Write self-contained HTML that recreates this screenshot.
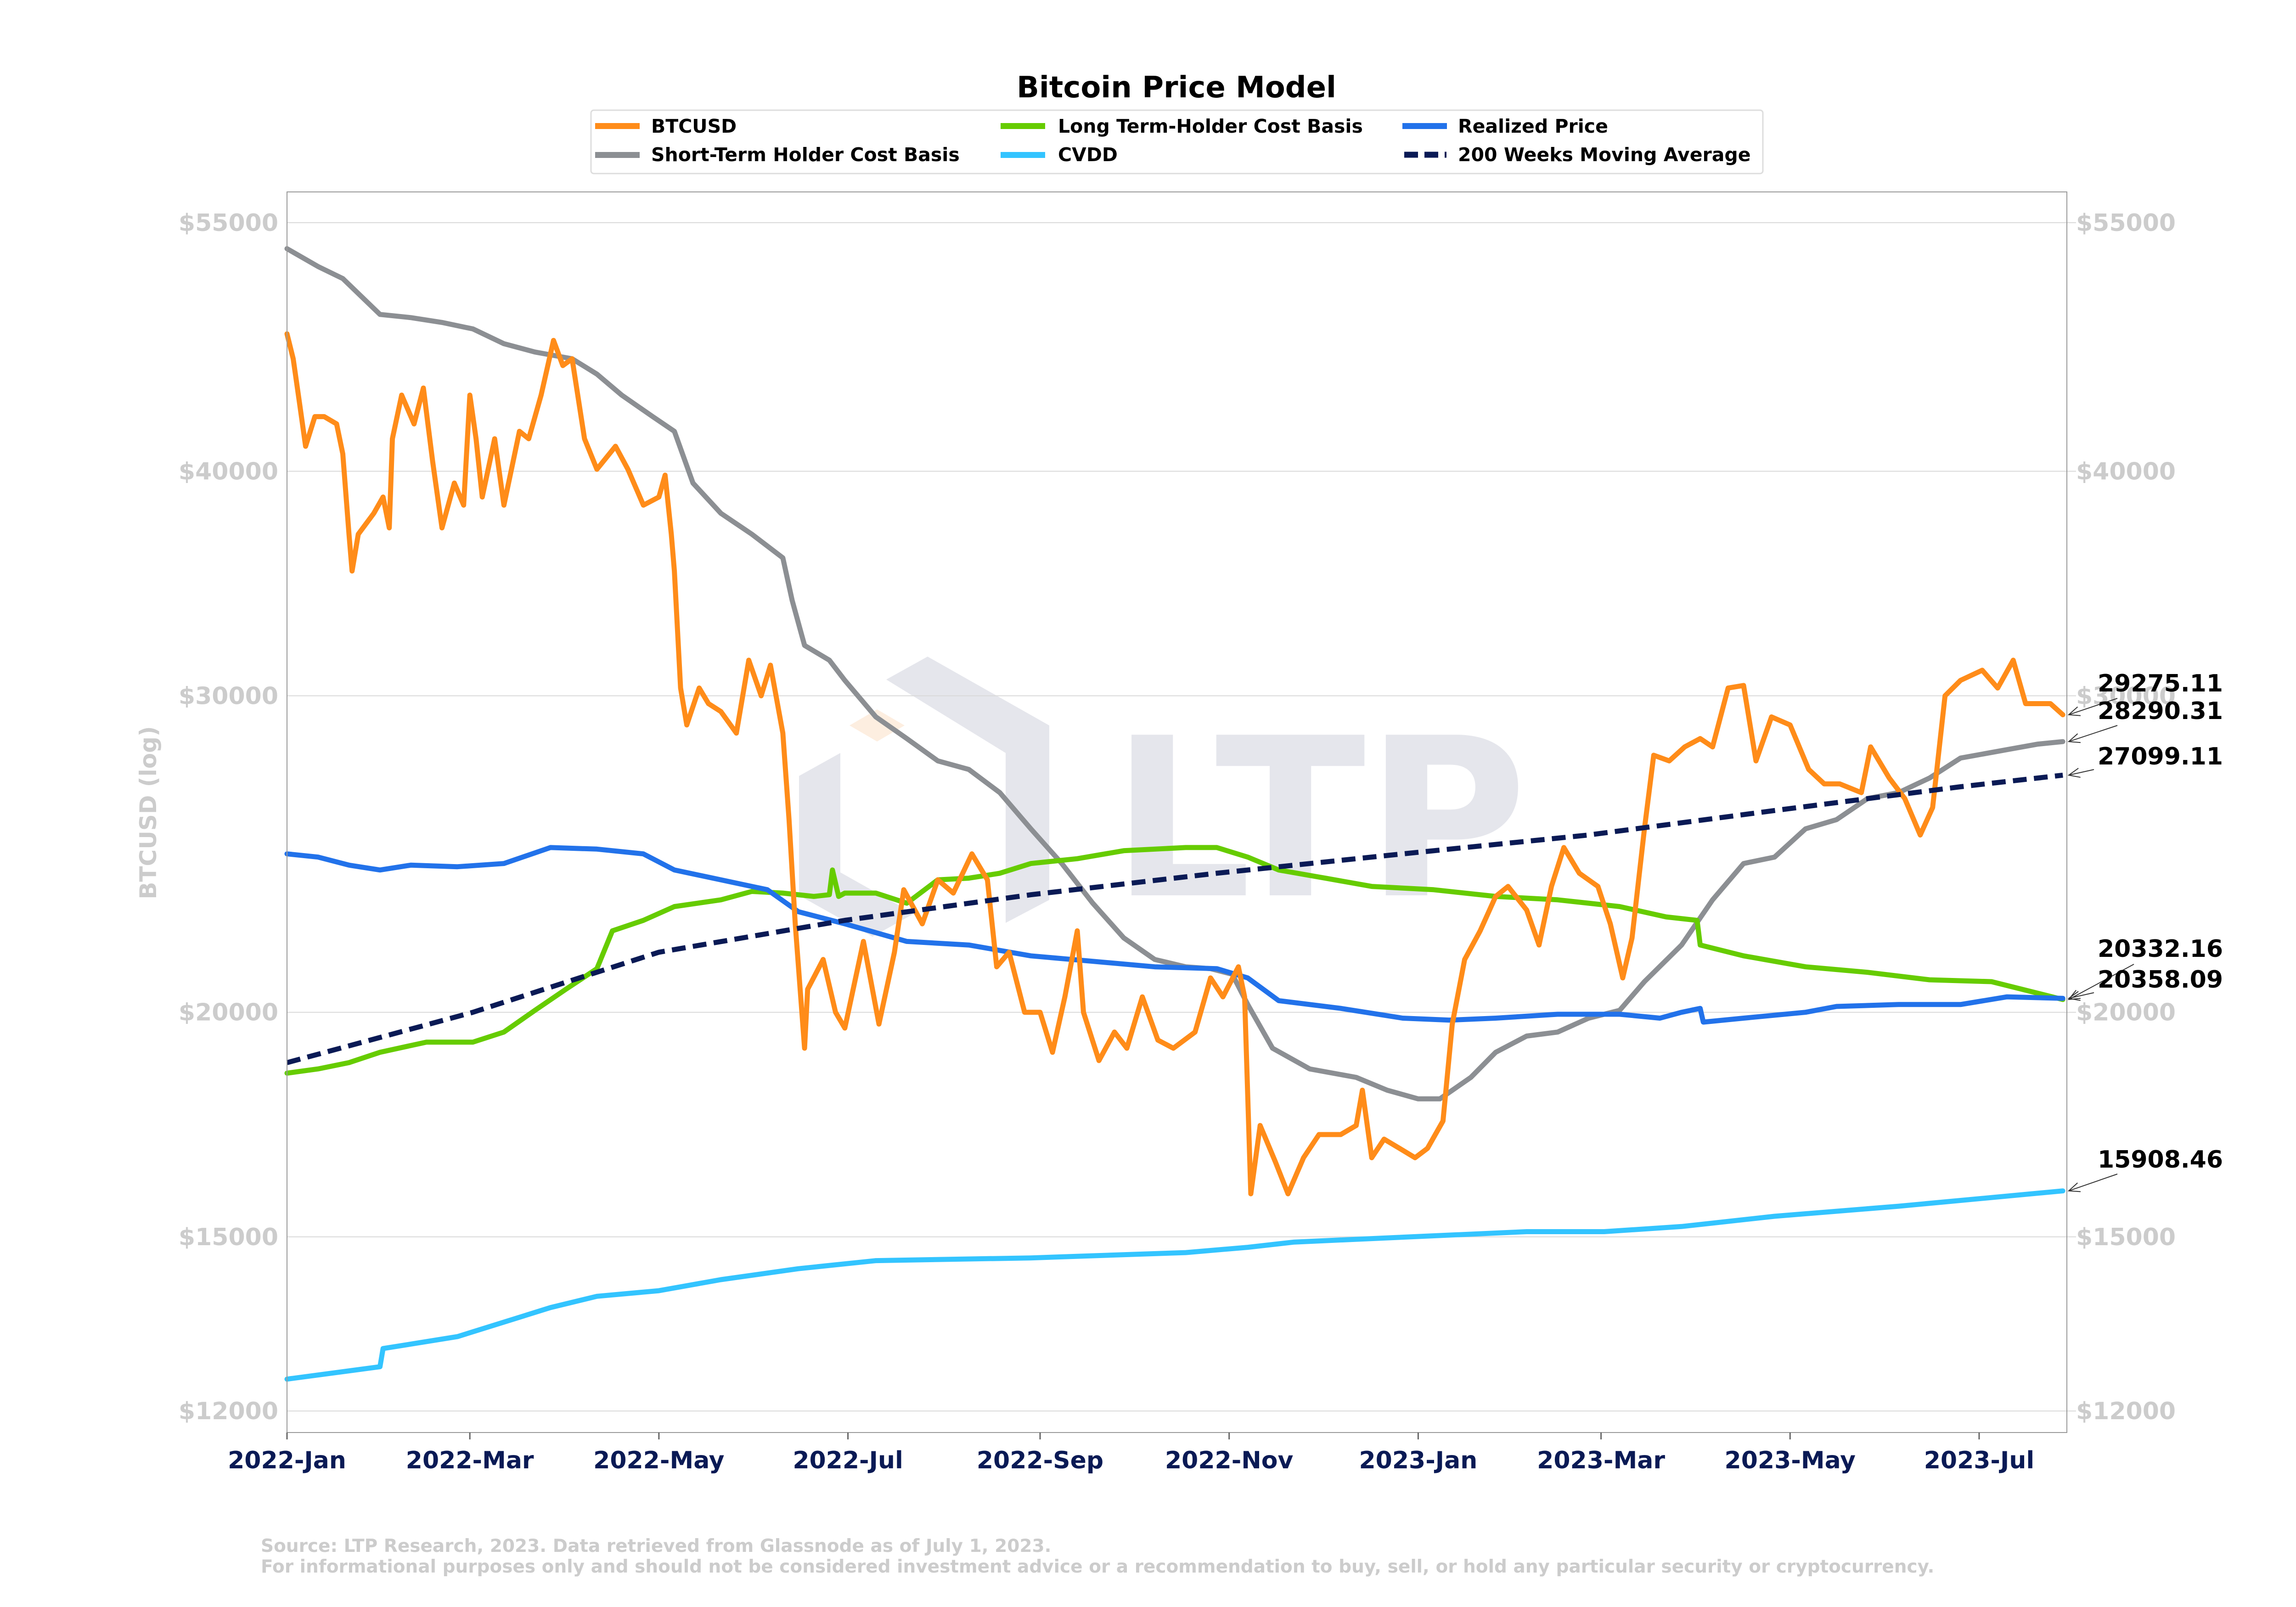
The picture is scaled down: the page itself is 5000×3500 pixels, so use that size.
<!DOCTYPE html>
<html><head><meta charset="utf-8"><style>
html,body{margin:0;padding:0;background:#fff;}
svg{display:block;font-family:"DejaVu Sans","Liberation Sans",sans-serif;}
</style></head><body>
<svg id="chart" width="5000" height="3500" viewBox="0 0 5000 3500" xmlns="http://www.w3.org/2000/svg">
<text x="2562" y="212" text-anchor="middle" font-size="64" font-weight="bold" fill="#000">Bitcoin Price Model</text>
<g>
<polygon points="1930,1480 2020,1430 2285,1580 2285,1960 2190,2010 2190,1640" fill="#e5e6ec"/>
<polygon points="1740,1690 1830,1640 1830,1900 1990,1990 1900,2040 1740,1950" fill="#e5e6ec"/>
<polygon points="1850,1580 1910,1545 1970,1580 1910,1615" fill="#fdeee0"/>
<text x="2420" y="1950" font-size="480" font-weight="bold" fill="#e5e6ec">LTP</text>
</g>
<g id="grid"></g>
<g id="series"></g>
<rect x="625" y="418" width="3876" height="2702" fill="none" stroke="#999" stroke-width="2"/>
<g id="axes"></g>
<text transform="translate(340,1770) rotate(-90)" text-anchor="middle" font-size="50" font-weight="bold" fill="#cccccc">BTCUSD (log)</text>
<g>
<rect x="1287" y="240" width="2552" height="138" rx="6" fill="#fff" stroke="#ddd" stroke-width="3"/>
<rect x="1296" y="268" width="97" height="13" fill="#ff8c19"/>
<text x="1418" y="289" font-size="41" font-weight="bold">BTCUSD</text>
<rect x="1296" y="331" width="97" height="13" fill="#8c8f93"/>
<text x="1418" y="351" font-size="41" font-weight="bold">Short-Term Holder Cost Basis</text>
<rect x="2179" y="268" width="97" height="13" fill="#66cc00"/>
<text x="2304" y="289" font-size="41" font-weight="bold">Long Term-Holder Cost Basis</text>
<rect x="2179" y="331" width="97" height="13" fill="#33c4ff"/>
<text x="2304" y="351" font-size="41" font-weight="bold">CVDD</text>
<rect x="3054" y="268" width="97" height="13" fill="#2272ea"/>
<text x="3175" y="289" font-size="41" font-weight="bold">Realized Price</text>
<line x1="3058" y1="337" x2="3150" y2="337" stroke="#0a1a55" stroke-width="13" stroke-dasharray="30,14"/>
<text x="3175" y="351" font-size="41" font-weight="bold">200 Weeks Moving Average</text>
</g>
<g id="annot"></g>
<text x="568" y="3380" font-size="39" font-weight="bold" fill="#cccccc">Source: LTP Research, 2023. Data retrieved from Glassnode as of July 1, 2023.</text>
<text x="568" y="3425" font-size="39" font-weight="bold" fill="#cccccc">For informational purposes only and should not be considered investment advice or a recommendation to buy, sell, or hold any particular security or cryptocurrency.</text>
</svg>
<script>
const yTicks=[55000,40000,30000,20000,15000,12000];
const xTickDays=[0,59,120,181,243,304,365,424,485,546];
const xTickLabels=["2022-Jan","2022-Mar","2022-May","2022-Jul","2022-Sep","2022-Nov","2023-Jan","2023-Mar","2023-May","2023-Jul"];
const btcDays=[0,2,4,6,9,12,16,18,20,21,23,28,31,33,34,37,41,44,47,50,54,57,59,61,63,67,70,75,78,82,86,89,92,96,100,106,110,115,120,122,124,125,127,129,133,136,140,145,149,153,156,160,162,164,167,168,173,177,180,186,191,196,199,205,210,215,221,226,229,233,238,243,247,251,255,257,262,267,271,276,281,286,293,298,302,307,309,311,314,319,323,328,333,340,345,347,350,354,359,364,368,373,376,380,385,390,394,400,404,408,412,417,423,427,431,434,438,441,446,451,456,460,465,470,474,479,485,491,496,501,508,511,517,522,527,531,535,540,547,552,557,561,569,573];
const btcVals=[47.7,46.2,43.7,41.3,42.9,42.9,42.5,40.9,36.9,35.2,36.9,37.9,38.7,37.2,41.7,44.1,42.5,44.5,40.5,37.2,39.4,38.3,44.1,41.7,38.7,41.7,38.3,42.1,41.7,44.1,47.3,45.8,46.2,41.7,40.1,41.3,40.1,38.3,38.7,39.8,36.9,35.2,30.3,28.9,30.3,29.7,29.4,28.6,31.4,30.0,31.2,28.6,25.6,22.4,19.1,20.6,21.4,20.0,19.6,21.9,19.7,21.6,23.4,22.4,23.7,23.3,24.5,23.7,21.2,21.6,20.0,20.0,19.0,20.4,22.2,20.0,18.8,19.5,19.1,20.4,19.3,19.1,19.5,20.9,20.4,21.2,20.4,15.85,17.3,16.5,15.85,16.6,17.1,17.1,17.3,18.1,16.6,17.0,16.8,16.6,16.8,17.4,19.7,21.4,22.2,23.2,23.5,22.8,21.8,23.5,24.7,23.9,23.5,22.4,20.9,22.0,25.3,27.8,27.6,28.1,28.4,28.1,30.3,30.4,27.6,29.2,28.9,27.3,26.8,26.8,26.5,28.1,27.0,26.3,25.1,26.0,30.0,30.6,31.0,30.3,31.4,29.7,29.7,29.28];
const sthDays=[0,10,18,30,40,50,60,70,80,92,100,108,118,125,131,140,150,160,163,167,175,180,190,200,210,220,230,240,250,260,270,280,290,298,305,310,318,330,345,355,365,372,382,390,400,410,420,430,438,450,460,470,480,490,500,510,520,530,540,555,565,573];
const sthVals=[53.2,52.0,51.2,48.9,48.7,48.4,48.0,47.1,46.6,46.2,45.3,44.1,42.9,42.1,39.4,37.9,36.9,35.8,33.9,32.0,31.4,30.6,29.2,28.4,27.6,27.3,26.5,25.3,24.2,23.0,22.0,21.4,21.2,21.15,21.0,20.2,19.1,18.6,18.4,18.1,17.9,17.9,18.4,19.0,19.4,19.5,19.85,20.05,20.8,21.8,23.1,24.2,24.4,25.3,25.6,26.3,26.5,27.0,27.7,28.0,28.2,28.29];
const lthDays=[0,10,20,30,45,60,70,80,90,100,105,115,125,140,150,160,170,175,176,178,180,190,200,210,220,230,240,255,270,290,300,310,320,335,350,370,390,410,430,445,455,456,470,490,510,530,550,573];
const lthVals=[18.5,18.6,18.75,19.0,19.25,19.25,19.5,20.05,20.6,21.15,22.2,22.5,22.9,23.1,23.35,23.3,23.2,23.25,24.0,23.2,23.3,23.3,23.0,23.7,23.75,23.9,24.2,24.35,24.6,24.7,24.7,24.4,24.0,23.75,23.5,23.4,23.2,23.1,22.9,22.6,22.5,21.8,21.5,21.2,21.05,20.85,20.8,20.33];
const rpDays=[0,10,20,30,40,55,70,85,100,115,125,140,155,165,180,200,220,240,260,280,300,310,320,340,360,375,390,410,430,443,450,456,457,470,490,500,520,540,555,573];
const rpVals=[24.5,24.4,24.15,24.0,24.15,24.1,24.2,24.7,24.65,24.5,24.0,23.7,23.4,22.75,22.4,21.9,21.8,21.5,21.35,21.2,21.15,20.9,20.3,20.1,19.85,19.8,19.85,19.95,19.95,19.85,20.0,20.1,19.75,19.85,20.0,20.15,20.2,20.2,20.4,20.36];
const cvddDays=[0,30,31,55,85,100,120,140,165,190,240,290,310,325,400,425,450,480,520,573];
const cvddVals=[12.5,12.7,13.0,13.2,13.7,13.9,14.0,14.2,14.4,14.55,14.6,14.7,14.8,14.9,15.1,15.1,15.2,15.4,15.6,15.91];
const wmaDays=[0,60,120,180,240,300,360,420,480,540,573];
const wmaVals=[18.75,20.0,21.6,22.5,23.25,23.9,24.5,25.1,25.9,26.7,27.1];
const annLabels=["29275.11","28290.31","27099.11","20332.16","20358.09","15908.46"];
const annVals=[29.28,28.29,27.1,20.33,20.36,15.91];

const NS="http://www.w3.org/2000/svg";
const X0=625,X1=4501,PXD=6.749;
function xs(d){return X0+d*PXD;}
function ys(v){return 485+(Math.log(55000)-Math.log(v))*1700;}
function mk(tag,attrs,parent){const e=document.createElementNS(NS,tag);for(const k in attrs)e.setAttribute(k,attrs[k]);parent.appendChild(e);return e;}
const grid=document.getElementById('grid'),axes=document.getElementById('axes'),ser=document.getElementById('series'),ann=document.getElementById('annot');
yTicks.forEach(t=>{const y=ys(t);
 const l=mk('line',{x1:X0,x2:X1+20,y1:y,y2:y,stroke:'#d9d9d9','stroke-width':2},grid);
 
 
 const a=mk('text',{x:606,y:y+18,'text-anchor':'end','font-size':52,'font-weight':'bold',fill:'#cccccc'},axes);a.textContent='$'+t;
 
 
 const b=mk('text',{x:4521,y:y+18,'font-size':52,'font-weight':'bold',fill:'#cccccc'},axes);b.textContent='$'+t;
 
 
});
xTickDays.forEach((d,i)=>{const x=xs(d);
 const t=mk('line',{x1:x,x2:x,y1:3120,y2:3135,stroke:'#666','stroke-width':3},axes);
 
 
 const a=mk('text',{x:x,y:3198,'text-anchor':'middle','font-size':52,'font-weight':'bold',fill:'#0a1a55'},axes);a.textContent=xTickLabels[i];
 
 
});
function path(days,vals){return days.map((d,i)=>(i?'L':'M')+xs(d).toFixed(1)+','+ys(vals[i]*1000).toFixed(1)).join(' ');}
function series(days,vals,color,name,dash){
 const p=mk('path',{d:path(days,vals),fill:'none',stroke:color,'stroke-width':11,'stroke-linejoin':'round','stroke-linecap':dash?'butt':'round'},ser);
 if(dash)p.setAttribute('stroke-dasharray',dash);
 
 
}
series(cvddDays,cvddVals,'#33c4ff','cvdd-line');
series(sthDays,sthVals,'#8c8f93','sth-cost-basis-line');
series(lthDays,lthVals,'#66cc00','lth-cost-basis-line');
series(rpDays,rpVals,'#2272ea','realized-price-line');
series(btcDays,btcVals,'#ff8c19','btcusd-line');
series(wmaDays,wmaVals,'#0a1a55','200-week-ma-line','30,16');
const textY=[1506,1566,1665,2084,2151,2543];
const fromPt=[[4611,1521],[4611,1580],[4560,1676],[4647,2100],[4560,2162],[4611,2557]];
annLabels.forEach((s,i)=>{
 const t=mk('text',{x:4568,y:textY[i],'font-size':52,'font-weight':'bold',fill:'#000'},ann);t.textContent=s;
 
 
 const ex=4505,ey=ys(annVals[i]*1000),fx=fromPt[i][0],fy=fromPt[i][1];
 const ang=Math.atan2(fy-ey,fx-ex),L=26,w=0.4;
 const a=mk('path',{d:`M${fx},${fy} L${ex},${ey} M${ex+L*Math.cos(ang+w)},${ey+L*Math.sin(ang+w)} L${ex},${ey} L${ex+L*Math.cos(ang-w)},${ey+L*Math.sin(ang-w)}`,fill:'none',stroke:'#333','stroke-width':2},ann);
 
 
});
</script>
</body></html>
